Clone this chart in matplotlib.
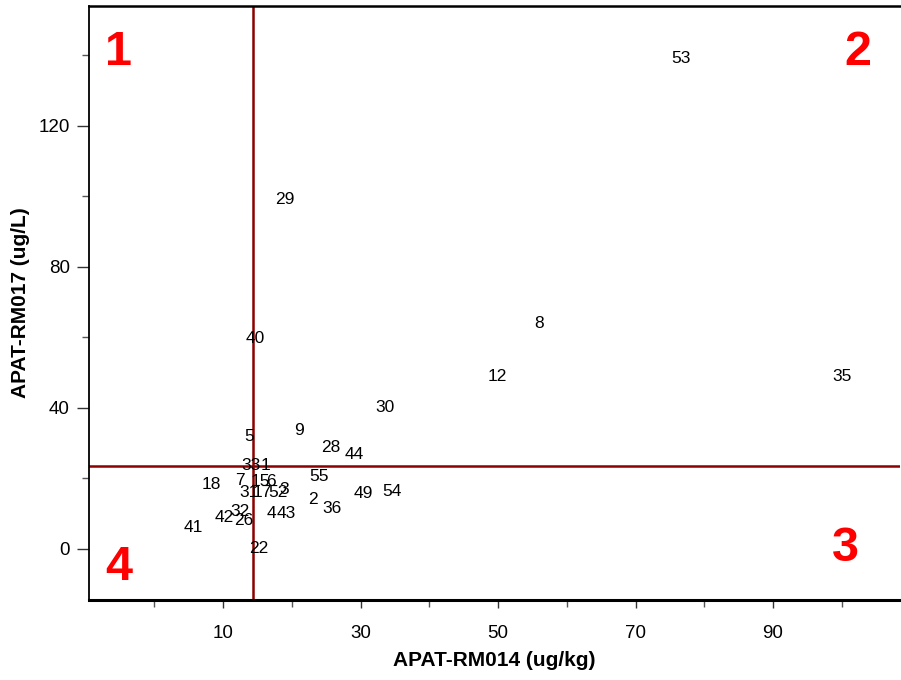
import matplotlib.pyplot as plt
from matplotlib.ticker import MultipleLocator, FixedLocator

plt.rcParams["font.family"] = ["Liberation Sans", "DejaVu Sans"]

# sample ids with their results from the two methods
labels = ["53", "29", "40", "8", "12", "35", "30", "9", "5", "28", "44",
          "33", "1", "7", "15", "6", "31", "17", "52", "3", "18", "55",
          "2", "36", "49", "54", "4", "43", "42", "32", "26", "41", "22"]
rm014 = [76.6, 18.9, 14.7, 55.9, 49.9, 100.0, 33.5, 21.1, 13.8, 25.6, 29.1,
         14.1, 16.2, 12.5, 15.4, 17.0, 13.8, 15.7, 18.0, 18.8, 8.2, 23.9,
         23.1, 25.8, 30.4, 34.5, 17.0, 19.2, 10.2, 12.5, 13.0, 5.7, 15.1]
rm017 = [139.0, 99.0, 59.6, 63.8, 48.8, 48.8, 40.0, 33.5, 31.8, 28.7, 26.7,
         23.5, 23.5, 19.3, 19.0, 19.0, 15.9, 15.9, 15.9, 16.7, 18.2, 20.4,
         13.9, 11.3, 15.6, 16.2, 9.9, 9.9, 8.8, 10.5, 7.9, 6.0, 0.0]

# quadrant split values
x_cut = 14.3
y_cut = 23.5

fig = plt.figure(figsize=(9.01, 6.8), dpi=100)
ax = fig.add_axes([0.099, 0.118, 0.900, 0.873])

for lab, xv, yv in zip(labels, rm014, rm017):
    ax.text(xv, yv, lab, ha="center", va="center", fontsize=12.5, color="black")

ax.axvline(x_cut, color="#8b0000", lw=1.8)
ax.axhline(y_cut, color="#8b0000", lw=1.8)

ax.set_xlim(-9.5, 108.5)
ax.set_ylim(-14.5, 154)

ax.xaxis.set_major_locator(FixedLocator([10, 30, 50, 70, 90]))
ax.xaxis.set_minor_locator(FixedLocator([0, 20, 40, 60, 80, 100]))
ax.yaxis.set_major_locator(MultipleLocator(40))
ax.yaxis.set_minor_locator(FixedLocator([20, 60, 100, 140]))
ax.tick_params(which="major", length=9, width=1, labelsize=13.5, pad=5, color="#333333")
ax.tick_params(axis="x", which="major", length=6, pad=12)
ax.tick_params(which="minor", length=5, width=1, color="#555555")

ax.spines["right"].set_visible(False)
ax.spines["left"].set_linewidth(1.3)
ax.spines["top"].set_linewidth(1.8)
ax.spines["bottom"].set_linewidth(2.2)

ax.set_xlabel("APAT-RM014 (ug/kg)", fontsize=15, fontweight="bold", labelpad=7)
ax.set_ylabel("APAT-RM017 (ug/L)", fontsize=15, fontweight="bold", labelpad=6)

quad = dict(color="red", fontsize=35, fontweight="bold", ha="center", va="center")
ax.text(0.036, 0.922, "1", transform=ax.transAxes, **quad)
ax.text(0.948, 0.922, "2", transform=ax.transAxes, **quad)
ax.text(0.932, 0.086, "3", transform=ax.transAxes, **quad)
ax.text(0.036, 0.054, "4", transform=ax.transAxes, **quad)

fig.savefig("out.png", dpi=100)
